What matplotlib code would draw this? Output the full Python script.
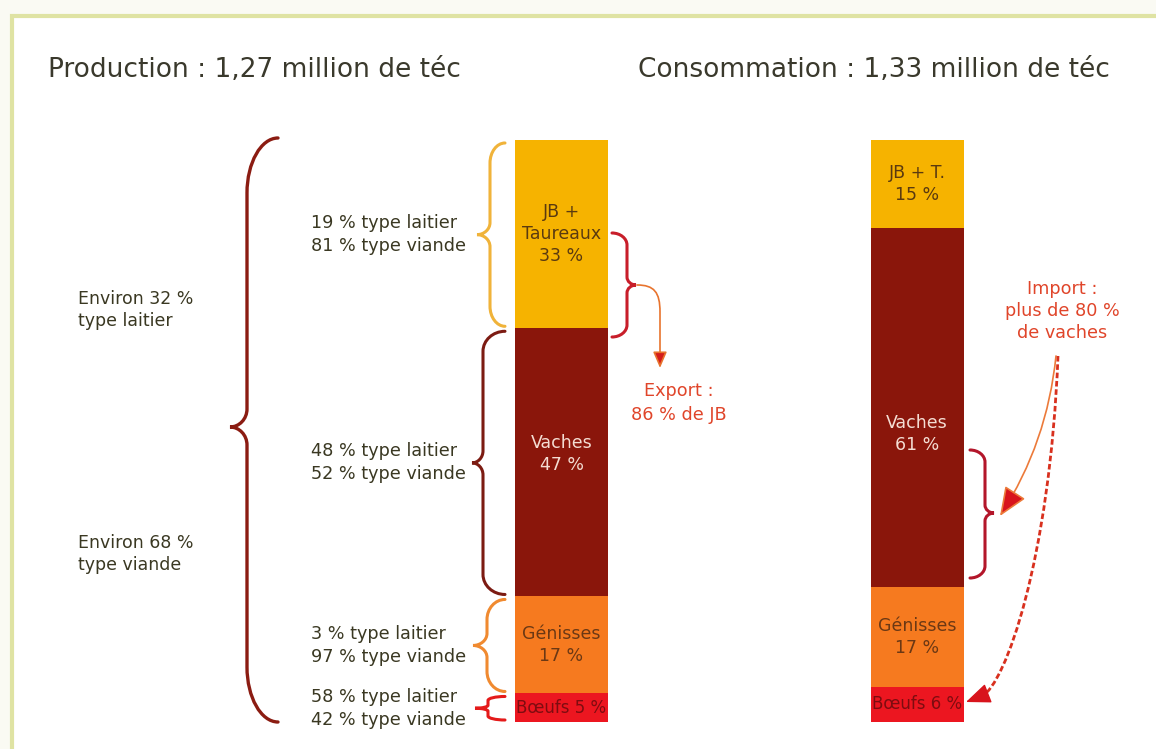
import matplotlib
matplotlib.use("Agg")
import matplotlib.pyplot as plt
import numpy as np
from matplotlib.path import Path
from matplotlib.patches import FancyArrowPatch, PathPatch, Rectangle

# data
prod_total = 1.27
cons_total = 1.33
prod_names = ["JB +\nTaureaux", "Vaches", "Génisses", "Bœufs"]
cons_names = ["JB + T.", "Vaches", "Génisses", "Bœufs"]
production = [33, 47, 17, 5]
consommation = [15, 61, 17, 6]
laitier = [19, 48, 3, 58]
viande = [81, 52, 97, 42]
global_laitier = 32
global_viande = 68
export_jb = 86
import_vaches = 80

seg_colors = ["#f6b300", "#8a160b", "#f67a1f", "#ec1620"]
label_colors = ["#5a3a10", "#f4ddd3", "#6b3814", "#7e0c10"]
brace_colors = ["#f0b33a", "#7c1b12", "#f08a30", "#e41a1a"]
text_col = "#3a3822"
red_txt = "#e0452a"

W, H = 1156, 749
TOP, BOT = 140, 722

fig = plt.figure(figsize=(W / 100, H / 100), dpi=100, facecolor="#fafaf3")
fig.patches.append(Rectangle((12 / W, -0.05), 1.2, (H - 16) / H + 0.05,
                             transform=fig.transFigure, facecolor="white",
                             edgecolor="#dfe3a3", linewidth=3, zorder=-1))

ax = fig.add_axes([0, (H - BOT) / H, 1, (BOT - TOP) / H], zorder=1)
ax.set_xlim(0, W)
ax.set_ylim(0, 100)
ax.axis("off")

deco = fig.add_axes([0, 0, 1, 1], zorder=2)
deco.set_xlim(0, W)
deco.set_ylim(H, 0)
deco.axis("off")


def px(p):
    return BOT - p * (BOT - TOP) / 100


def stack(values):
    h = np.array(values, float) / sum(values) * 100
    top = 100 - np.concatenate([[0], np.cumsum(h)[:-1]])
    return h, top - h, top


def brace(x_end, x_body, x_tip, y0, y1, ym, r, r2, color, lw=2):
    verts = [
        (x_end, y0),
        (x_end + 0.55 * (x_body - x_end), y0), (x_body, y0 + 0.45 * r), (x_body, y0 + r),
        (x_body, ym - r2),
        (x_body, ym - 0.45 * r2), (x_body + 0.45 * (x_tip - x_body), ym), (x_tip, ym),
        (x_body + 0.45 * (x_tip - x_body), ym), (x_body, ym + 0.45 * r2), (x_body, ym + r2),
        (x_body, y1 - r),
        (x_body, y1 - 0.45 * r), (x_end + 0.55 * (x_body - x_end), y1), (x_end, y1),
    ]
    C = Path.CURVE4
    codes = [Path.MOVETO, C, C, C, Path.LINETO, C, C, C, C, C, C, Path.LINETO, C, C, C]
    deco.add_patch(PathPatch(Path(verts, codes), fill=False, edgecolor=color,
                             lw=lw, capstyle="round"))


# (x centre, values, names, label shift in % per segment)
bars = [(561.5, production, prod_names, [0, 1.5, 0, 0]),
        (917, consommation, cons_names, [0, -4.5, 0, 0])]
for xc, vals, names, shift in bars:
    h, bottom, top = stack(vals)
    ax.bar(xc, h, bottom=bottom, width=93, color=seg_colors, linewidth=0)
    for i, (name, v) in enumerate(zip(names, vals)):
        last = i == len(vals) - 1
        ax.text(xc, bottom[i] + h[i] / 2 + shift[i], f"{name}{' ' if last else chr(10)}{v} %",
                ha="center", va="center", fontsize=12 if last else 12.5,
                color=label_colors[i], linespacing=1.3)

# titles
fmt = lambda v: f"{v:.2f}".replace(".", ",")
deco.text(48, 70, f"Production : {fmt(prod_total)} million de téc", fontsize=19,
          color="#3a392c", va="center", ha="left")
deco.text(638, 70, f"Consommation : {fmt(cons_total)} million de téc", fontsize=19,
          color="#3a392c", va="center", ha="left")

# braces and labels left of production bar
h, bottom, top = stack(production)
bodies = [490, 483, 487, 488]
tips = [477, 472, 473, 475]
for i in range(len(production)):
    y0, y1 = px(top[i]) + 3, px(bottom[i]) - 2
    small = (y1 - y0) < 40
    brace(505, bodies[i], tips[i], y0, y1, (y0 + y1) / 2,
          4 if small else 20, 3 if small else 12, brace_colors[i], lw=2.2)
    deco.text(311, (y0 + y1) / 2, f"{laitier[i]} % type laitier\n{viande[i]} % type viande",
              fontsize=12.7, color=text_col, ha="left", va="center", linespacing=1.35)

brace(278, 247, 230, px(100) - 2, px(0), 427, 55, 18, "#8b1c12", lw=2.4)
deco.text(78, 310, f"Environ {global_laitier} %\ntype laitier", fontsize=12.5,
          color=text_col, ha="left", va="center", linespacing=1.35)
deco.text(78, 554, f"Environ {global_viande} %\ntype viande", fontsize=12.5,
          color=text_col, ha="left", va="center", linespacing=1.35)

# export
brace(612, 627, 636, 233, 337, 285, 12, 8, "#c81e2a", lw=2.2)
C = Path.CURVE4
exp_path = Path([(637, 285), (654, 285), (660, 292), (660, 312), (660, 368)],
                [Path.MOVETO, C, C, C, Path.LINETO])
deco.add_patch(FancyArrowPatch(path=exp_path, arrowstyle="-|>,head_length=0.7,head_width=0.3",
                               mutation_scale=14, edgecolor="#e8742e", facecolor="#d41c1c", lw=1.2))
deco.text(679, 403, f"Export :\n{export_jb} % de JB", fontsize=12.7, color=red_txt,
          ha="center", va="center", linespacing=1.4)

# import
brace(970, 985, 994, 450, 578, 513, 12, 8, "#b3162a", lw=2.2)
deco.text(1062, 311, f"Import :\nplus de {import_vaches} %\nde vaches", fontsize=12.7,
          color=red_txt, ha="center", va="center", linespacing=1.3)
deco.add_patch(FancyArrowPatch((1056, 356), (1000, 516), connectionstyle="arc3,rad=-0.12",
                               arrowstyle="-|>,head_length=1.2,head_width=0.5", mutation_scale=15,
                               edgecolor="#ec7a3a", facecolor="#d8141c", lw=1.2,
                               shrinkA=0, shrinkB=0))
dash_path = Path([(1058, 356), (1050, 560), (1005, 685), (982, 696)],
                 [Path.MOVETO, C, C, C])
deco.add_patch(PathPatch(dash_path, fill=False, edgecolor="#d8301e", lw=2,
                         linestyle=(0, (2, 1))))
deco.add_patch(FancyArrowPatch((984, 695), (966, 702), arrowstyle="-|>,head_length=1.1,head_width=0.45",
                               mutation_scale=14, color="#d8141c", lw=1, shrinkA=0, shrinkB=0))

fig.savefig("out.png", dpi=100, facecolor=fig.get_facecolor())
